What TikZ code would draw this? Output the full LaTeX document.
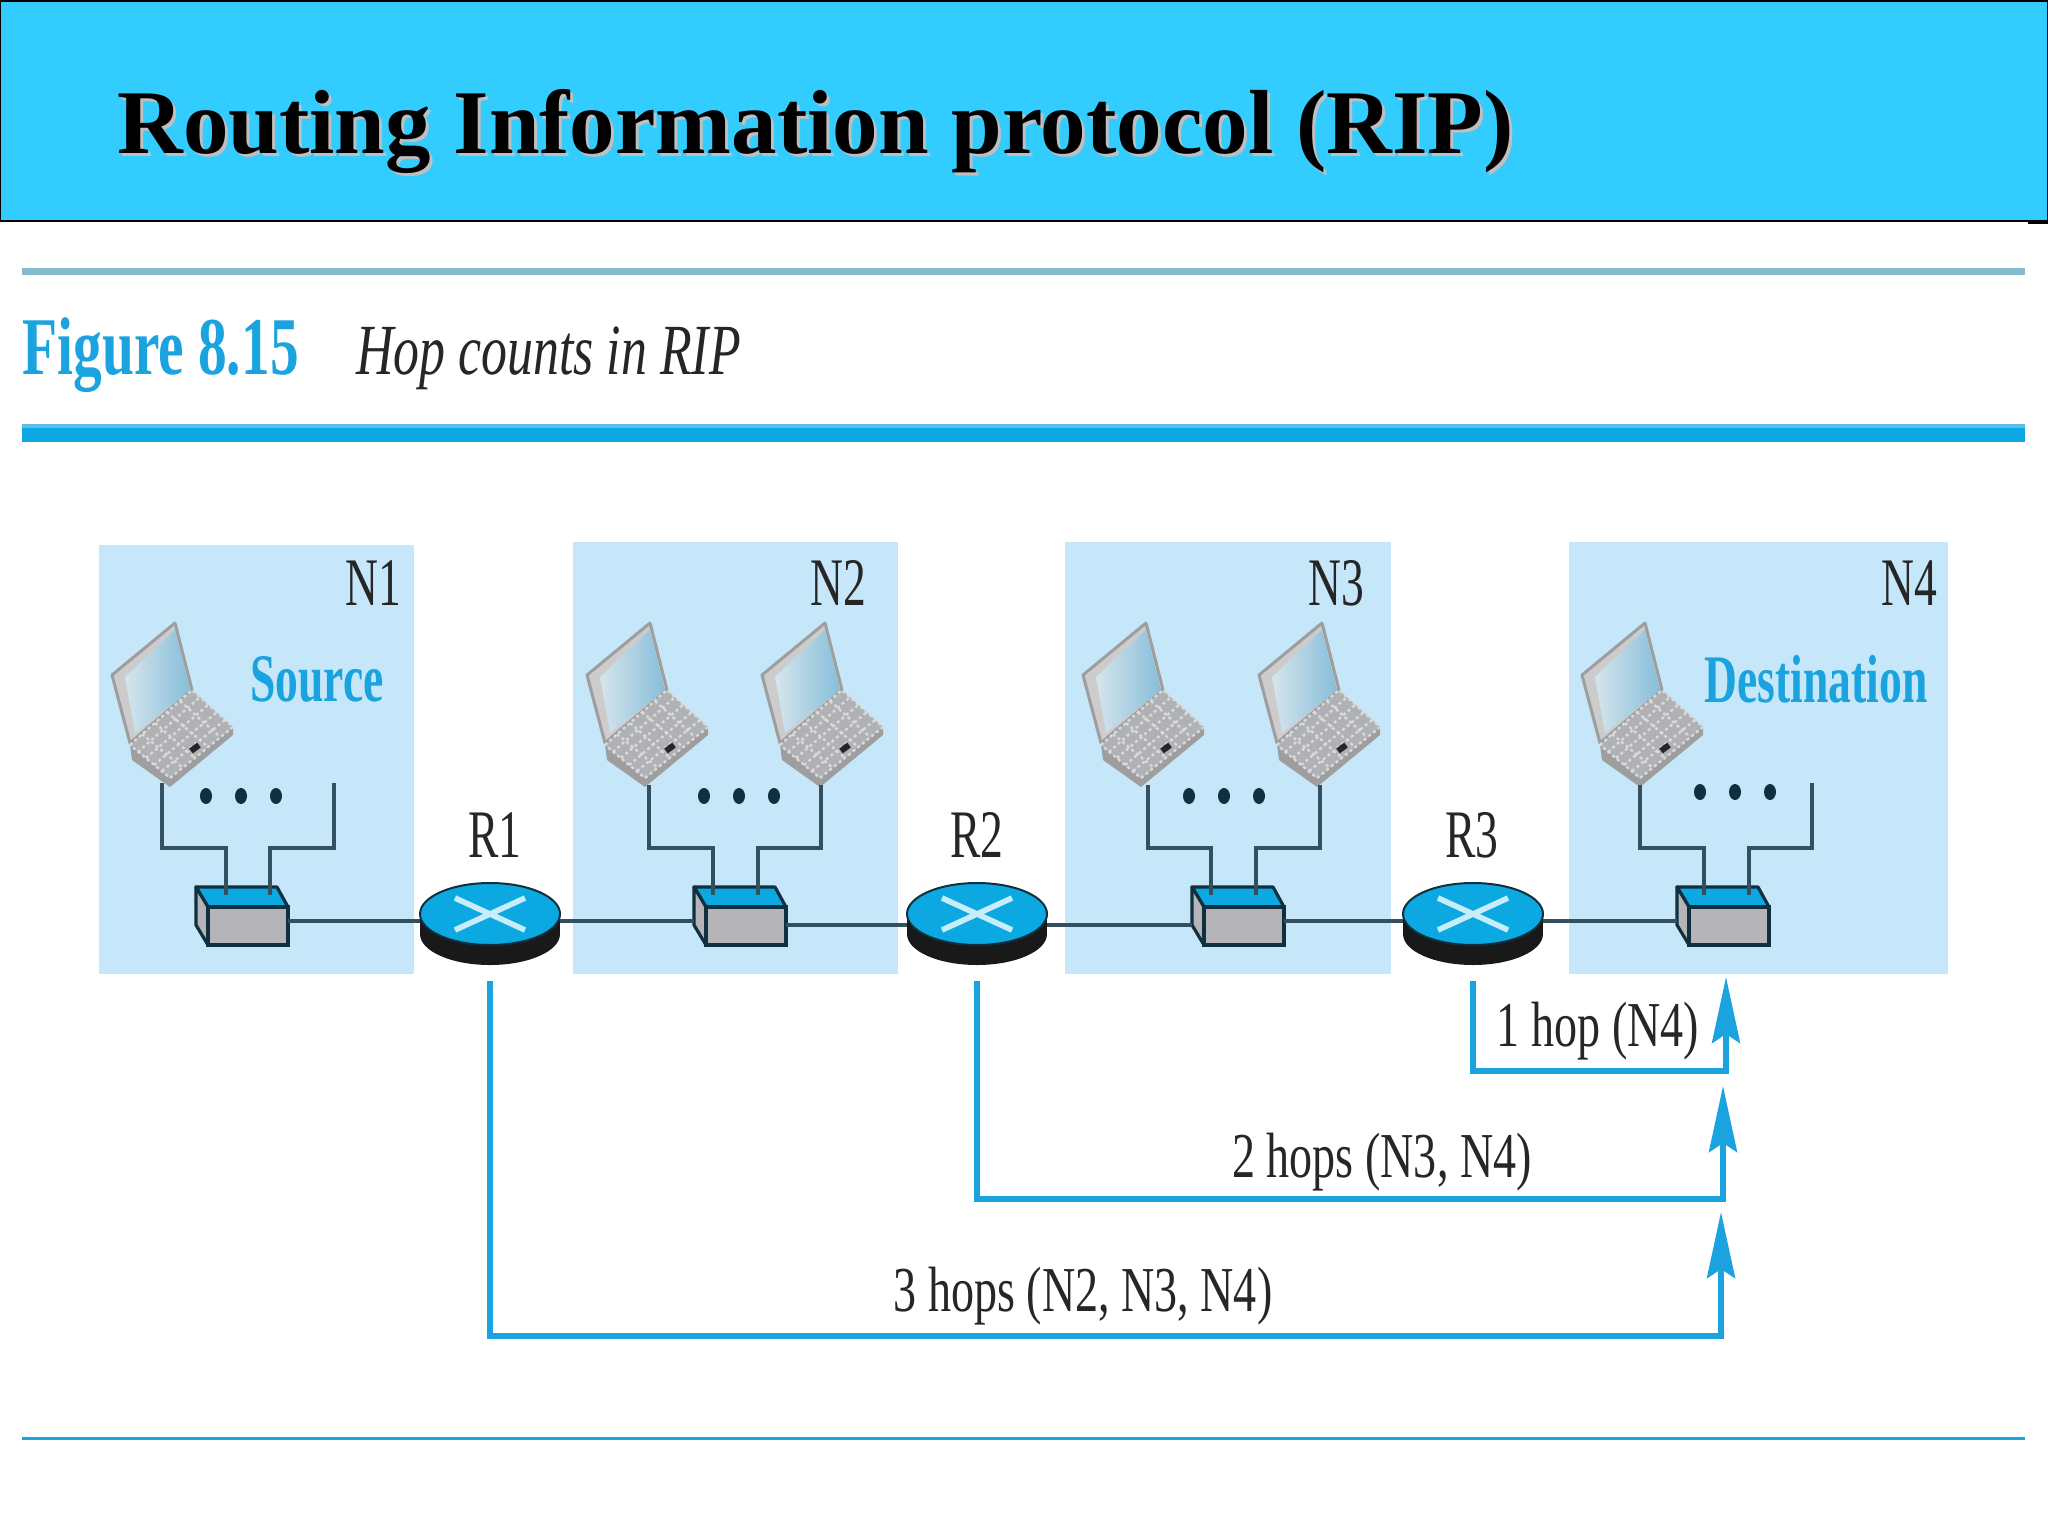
\documentclass[tikz,border=0pt]{standalone}
\usepackage{fontspec}
\usetikzlibrary{arrows.meta}
\setmainfont{Liberation Serif}
\newfontfamily\tagserif[FakeStretch=0.67]{Liberation Serif}
\newfontfamily\figserif[FakeStretch=0.70]{Liberation Serif}
\newfontfamily\hopserif[FakeStretch=0.72]{Liberation Serif}
\definecolor{barblue}{HTML}{33CCFF}
\definecolor{panelblue}{HTML}{C5E7F9}
\definecolor{inkblue}{HTML}{1AA3DF}
\definecolor{routerblue}{HTML}{0BA8E2}
\definecolor{wiregrey}{HTML}{34505F}
\definecolor{boxgrey}{HTML}{B5B5B9}
\definecolor{keygrey}{HTML}{B0B1B4}
\definecolor{edgedark}{HTML}{10303F}
\definecolor{ruleteal}{HTML}{85BACB}
\definecolor{screenpale}{HTML}{D5E5EC}
\definecolor{screendeep}{HTML}{86BEDA}
\begin{document}
\begin{tikzpicture}[x=0.5pt,y=-0.5pt]
    \tikzset{panel/.style = {fill=panelblue}}
    \tikzset{tag/.style = {font=\tagserif\fontsize{34}{34}\selectfont, text=black!85, inner sep=0pt}}
    \tikzset{role/.style = {font=\tagserif\bfseries\fontsize{34}{34}\selectfont, text=inkblue, inner sep=0pt}}
    \tikzset{hoptext/.style = {font=\hopserif\fontsize{32}{32}\selectfont, text=black!85, inner sep=0pt}}
    \tikzset{wire/.style = {draw=wiregrey, line width=1.9pt}}
    \tikzset{hop/.style = {draw=inkblue, line width=2.8pt, shorten <=8pt, -{Stealth[length=33pt,width=14pt,inset=4.5pt]}}}
    \tikzset{port/.style = {inner sep=0pt, minimum width=#1}}
    \tikzset{
        laptop/.pic = {
            \filldraw[fill=black!20, draw=black!38, line width=1.5pt, line join=round] (5,-164) -- (-58,-112) -- (-40,-44) -- (22,-97) -- cycle;
            \shade[left color=screenpale, right color=screendeep] (-45,-110) -- (5,-157) -- (20,-97) -- (-35,-54) -- cycle;
            \fill[black!38] (-40,-42) -- (-38,-27) -- (0,0) -- (63,-52) -- (63,-60) -- (0,-9) -- cycle;
            \fill[keygrey] (-40,-42) -- (22,-97) -- (63,-60) -- (0,-9) -- cycle;
            \draw[white!85!black, line width=1.2pt, dash pattern=on 1.5pt off 1.5pt]
                (-40,-42) -- (22,-97) -- (63,-60) -- (0,-9) -- cycle
                (-32,-35) -- (30,-90) (-24,-29) -- (38,-82) (-16,-22) -- (47,-75) (-8,-16) -- (55,-67)
                (-28,-53) -- (13,-19) (-15,-64) -- (25,-29) (-3,-75) -- (38,-40) (10,-86) -- (50,-50);
            \draw[black!85, line width=3pt] (21,-36) -- (29,-42);
        },
        switch/.pic = {
            \filldraw[fill=routerblue, draw=edgedark, line width=1.6pt, line join=round] (-46,-34) -- (35,-34) -- (46,-14) -- (-34,-14) -- cycle;
            \filldraw[fill=boxgrey, draw=edgedark, line width=1.6pt, line join=round] (-46,-34) -- (-34,-14) -- (-34,24) -- (-46,4) -- cycle;
            \filldraw[fill=boxgrey, draw=edgedark, line width=1.6pt] (-34,-14) rectangle (46,24);
            \node[port=46pt, minimum height=10pt] (-p) {};
        },
        router/.pic = {
            \fill[black!90] (0,13) ellipse [x radius=70, y radius=31];
            \fill[black!90] (-70,-7) rectangle (70,13);
            \filldraw[fill=routerblue, draw=edgedark, line width=1pt] (0,-7) ellipse [x radius=70, y radius=31];
            \draw[cyan!22!white, line width=2.8pt] (-35,-23) -- (35,9) (-35,9) -- (35,-23);
            \node[port=70pt, minimum height=44pt] (-p) {};
        },
        dots/.pic = {
            \fill[edgedark] (-35,0) ellipse [x radius=6, y radius=8];
            \fill[edgedark] (0,0) ellipse [x radius=6, y radius=8];
            \fill[edgedark] (35,0) ellipse [x radius=6, y radius=8];
        }
    }
    \useasboundingbox (0,0) rectangle (2048,1536);
    % title bar and rules
    \filldraw[fill=barblue, draw=black, line width=1pt] (0,1) rectangle (2048,221);
    \draw[black, line width=1pt] (2028,223) -- (2048,223);
    \node[font=\bfseries\fontsize{45.5}{46}\selectfont, text=black!25, anchor=base west, inner sep=0pt] (titleshade) at (120,156) {Routing Information protocol (RIP)};
    \node[font=\bfseries\fontsize{45.5}{46}\selectfont, text=black, anchor=base west, inner sep=0pt] (title) at (117,153) {Routing Information protocol (RIP)};
    \fill[ruleteal] (22,268) rectangle (2025,275);
    \fill[routerblue] (22,428) rectangle (2025,442);
    \fill[inkblue!70!white] (22,424) rectangle (2025,428);
    \fill[inkblue] (22,1437) rectangle (2025,1440);
    \node[font=\figserif\bfseries\fontsize{41}{41}\selectfont, text=inkblue, anchor=base west, inner sep=0pt] (fig) at (22,374) {Figure 8.15};
    \node[font=\hopserif\itshape\fontsize{36}{36}\selectfont, text=black!85, anchor=base west, inner sep=0pt] (cap) at (356,374) {Hop counts in RIP};
    % networks
    \fill[panel] (99,545) rectangle (414,974);
    \fill[panel] (573,542) rectangle (898,974);
    \fill[panel] (1065,542) rectangle (1391,974);
    \fill[panel] (1569,542) rectangle (1948,974);
    \node[tag] (n1) at (373,583) {N1};
    \node[tag] (n2) at (838,583) {N2};
    \node[tag] (n3) at (1336,583) {N3};
    \node[tag] (n4) at (1909,583) {N4};
    \node[role] (src) at (317,679) {Source};
    \node[role] (dst) at (1816,679) {Destination};
    % hosts
    \pic at (170,787) {laptop};
    \pic at (645,787) {laptop};
    \pic at (820,787) {laptop};
    \pic at (1141,787) {laptop};
    \pic at (1317,787) {laptop};
    \pic at (1640,787) {laptop};
    \pic at (241,796) {dots};
    \pic at (739,796) {dots};
    \pic at (1224,796) {dots};
    \pic at (1735,792) {dots};
    % switches and routers
    \pic (s1) at (242,921) {switch};
    \pic (s2) at (740,921) {switch};
    \pic (s3) at (1238,921) {switch};
    \pic (s4) at (1723,921) {switch};
    \pic (r1) at (490,921) {router};
    \pic (r2) at (977,921) {router};
    \pic (r3) at (1473,921) {router};
    \node[tag] (r1t) at (495,835) {R1};
    \node[tag] (r2t) at (977,835) {R2};
    \node[tag] (r3t) at (1472,835) {R3};
    % cable ends
    \coordinate (w1a) at (162,783); \coordinate (d1a) at (226,895);
    \coordinate (w1b) at (334,783); \coordinate (d1b) at (270,895);
    \coordinate (w2a) at (649,785); \coordinate (d2a) at (713,895);
    \coordinate (w2b) at (821,785); \coordinate (d2b) at (758,895);
    \coordinate (w3a) at (1148,785); \coordinate (d3a) at (1211,895);
    \coordinate (w3b) at (1320,785); \coordinate (d3b) at (1256,895);
    \coordinate (w4a) at (1640,785); \coordinate (d4a) at (1704,895);
    \coordinate (w4b) at (1812,783); \coordinate (d4b) at (1749,895);
    \draw[wire] (w1a) |- (d1a |- 0,848) -- (d1a);
    \draw[wire] (w1b) |- (d1b |- 0,848) -- (d1b);
    \draw[wire] (w2a) |- (d2a |- 0,848) -- (d2a);
    \draw[wire] (w2b) |- (d2b |- 0,848) -- (d2b);
    \draw[wire] (w3a) |- (d3a |- 0,848) -- (d3a);
    \draw[wire] (w3b) |- (d3b |- 0,848) -- (d3b);
    \draw[wire] (w4a) |- (d4a |- 0,848) -- (d4a);
    \draw[wire] (w4b) |- (d4b |- 0,848) -- (d4b);
    \draw[wire] (s1-p) -- (r1-p);
    \draw[wire] (r1-p) -- (s2-p);
    \draw[wire] ([yshift=-2pt]s2-p.east) -- ([yshift=-2pt]s2-p.east -| r2-p.west);
    \draw[wire] ([yshift=-2pt]s3-p.west -| r2-p.east) -- ([yshift=-2pt]s3-p.west);
    \draw[wire] (s3-p) -- (r3-p);
    \draw[wire] (r3-p) -- (s4-p);
    % hop paths
    \coordinate (c1) at (1726,1071); \coordinate (t1) at (1726,977);
    \coordinate (c2) at (1723,1199); \coordinate (t2) at (1723,1086);
    \coordinate (c3) at (1721,1336); \coordinate (t3) at (1721,1212);
    \draw[hop] (r3-p.south) |- (c1) -- (t1);
    \draw[hop] (r2-p.south) |- (c2) -- (t2);
    \draw[hop] (r1-p.south) |- (c3) -- (t3);
    \node[hoptext] (h1) at (1598,1031) {1 hop (N4)};
    \node[hoptext] (h2) at (1382,1162) {2 hops (N3, N4)};
    \node[hoptext] (h3) at (1083,1296) {3 hops (N2, N3, N4)};
\end{tikzpicture}
\end{document}
